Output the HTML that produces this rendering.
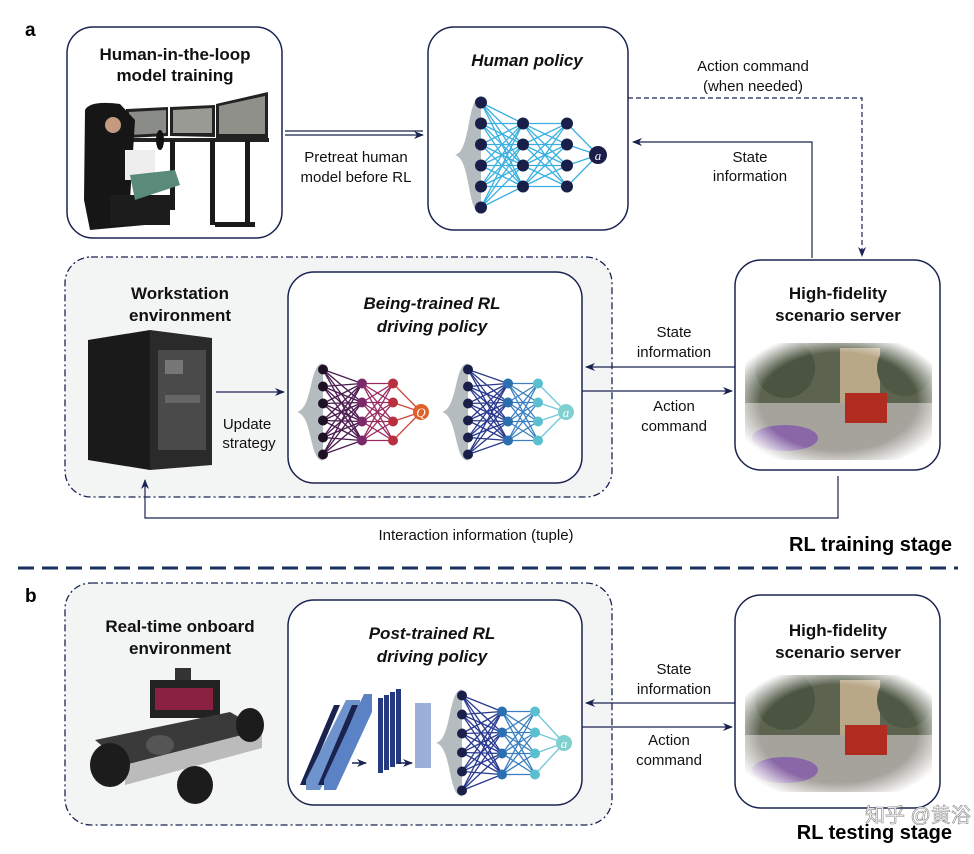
<!DOCTYPE html><html><head><meta charset="utf-8"><style>
body{margin:0;background:#fff}
svg{display:block;font-family:"Liberation Sans",Arial,sans-serif}
.t{font-size:15px;fill:#111;text-anchor:middle}
.b{font-size:17px;font-weight:bold;fill:#111;text-anchor:middle}
.bi{font-size:17px;font-weight:bold;font-style:italic;fill:#111;text-anchor:middle}
</style></head><body>
<svg id="s" width="974" height="854" viewBox="0 0 974 854" xmlns="http://www.w3.org/2000/svg">
<defs>
<marker id="ar" markerWidth="10" markerHeight="8" refX="9" refY="4" orient="auto" markerUnits="userSpaceOnUse"><path d="M0,0 L10,4 L0,8 L3,4z" fill="#1a2350"/></marker>
<radialGradient id="vig" cx=".5" cy=".5" r=".6"><stop offset=".7" stop-color="#fff" stop-opacity="0"/><stop offset="1" stop-color="#fff" stop-opacity="1"/></radialGradient>
<clipPath id="sclip"><rect x="0" y="0" width="187" height="117"/></clipPath>
<g id="scene"><g clip-path="url(#sclip)">
<rect x="0" y="0" width="187" height="117" fill="#b8b4ac"/>
<rect x="0" y="0" width="187" height="60" fill="#5c6450"/>
<rect x="95" y="5" width="40" height="55" fill="#b8a888"/>
<circle cx="40" cy="25" r="30" fill="#4a5440"/><circle cx="160" cy="25" r="28" fill="#4e5844"/>
<rect x="0" y="60" width="187" height="57" fill="#a6a29c"/>
<rect x="100" y="50" width="42" height="30" fill="#b02c20"/>
<ellipse cx="40" cy="95" rx="33" ry="13" fill="#8a68a8"/>
<rect x="0" y="0" width="187" height="117" fill="url(#vig)"/>
</g></g>
</defs>
<text x="25" y="36" style="font-size:19px;font-weight:bold">a</text>
<text x="25" y="602" style="font-size:19px;font-weight:bold">b</text>
<rect x="65" y="257" width="547" height="240" rx="26" fill="#f3f5f5" stroke="#1a2350" stroke-width="1.3" stroke-dasharray="7 3 2 3"/>
<rect x="65" y="583" width="547" height="242" rx="26" fill="#f3f5f5" stroke="#1a2350" stroke-width="1.3" stroke-dasharray="7 3 2 3"/>
<rect x="67" y="27" width="215" height="211" rx="26" fill="#fff" stroke="#1a2350" stroke-width="1.5"/>
<rect x="428" y="27" width="200" height="203" rx="26" fill="#fff" stroke="#1a2350" stroke-width="1.5"/>
<rect x="288" y="272" width="294" height="211" rx="26" fill="#fff" stroke="#1a2350" stroke-width="1.5"/>
<rect x="735" y="260" width="205" height="210" rx="26" fill="#fff" stroke="#1a2350" stroke-width="1.5"/>
<rect x="288" y="600" width="294" height="205" rx="26" fill="#fff" stroke="#1a2350" stroke-width="1.5"/>
<rect x="735" y="595" width="205" height="213" rx="26" fill="#fff" stroke="#1a2350" stroke-width="1.5"/>
<text class="b" x="175" y="60">Human-in-the-loop</text><text class="b" x="175" y="81">model training</text>
<text class="bi" x="527" y="66">Human policy</text>
<text class="b" x="180" y="299">Workstation</text><text class="b" x="180" y="321">environment</text>
<text class="bi" x="432" y="309">Being-trained RL</text><text class="bi" x="432" y="332">driving policy</text>
<text class="b" x="838" y="299">High-fidelity</text><text class="b" x="838" y="321">scenario server</text>
<text class="b" x="180" y="632">Real-time onboard</text><text class="b" x="180" y="654">environment</text>
<text class="bi" x="432" y="639">Post-trained RL</text><text class="bi" x="432" y="662">driving policy</text>
<text class="b" x="838" y="636">High-fidelity</text><text class="b" x="838" y="658">scenario server</text>
<g>
<polygon points="126,109 168,107 168,136 126,138" fill="#222"/>
<polygon points="129,112 166,110 166,133 129,135" fill="#8a8c88"/>
<polygon points="170,107 215,105 215,137 170,136" fill="#222"/>
<polygon points="173,110 212,108 212,133 173,133" fill="#9a9a94"/>
<polygon points="216,104 268,92 268,138 216,138" fill="#222"/>
<polygon points="219,106 265,96 265,134 219,134" fill="#8f908a"/>
<rect x="126" y="138" width="143" height="4" fill="#222"/>
<rect x="210" y="140" width="5" height="85" fill="#1a1a1a"/><rect x="245" y="140" width="5" height="85" fill="#1a1a1a"/>
<rect x="215" y="222" width="40" height="5" fill="#1a1a1a"/>
<rect x="170" y="140" width="5" height="70" fill="#1a1a1a"/>
<path d="M85,110 Q90,100 120,104 L135,120 L130,200 L145,225 L90,230 L84,200z" fill="#161616"/>
<rect x="110" y="195" width="60" height="30" fill="#1c1c1c"/>
<rect x="125" y="150" width="30" height="30" fill="#eee"/>
<path d="M130,175 L175,170 L180,185 L135,200z" fill="#5a8a7a"/>
<circle cx="113" cy="125" r="8" fill="#c49a80"/>
<ellipse cx="160" cy="140" rx="4" ry="10" fill="#111"/>
</g>
<polygon points="88,340 150,330 150,470 88,460" fill="#1a1a1a"/>
<polygon points="150,330 212,338 212,465 150,470" fill="#2a2a2a"/>
<rect x="158" y="350" width="48" height="100" fill="#4a4a4a"/>
<rect x="165" y="360" width="18" height="14" fill="#777"/><rect x="165" y="395" width="35" height="8" fill="#666"/>
<g>
<rect x="150" y="680" width="70" height="38" fill="#222"/>
<rect x="155" y="688" width="58" height="22" fill="#8a2040"/>
<rect x="175" y="668" width="16" height="12" fill="#333"/>
<polygon points="95,740 230,712 262,730 125,765" fill="#3a3a3a"/>
<polygon points="125,765 262,730 262,748 125,785" fill="#bbb"/>
<ellipse cx="110" cy="765" rx="20" ry="22" fill="#1c1c1c"/>
<ellipse cx="250" cy="725" rx="14" ry="17" fill="#1c1c1c"/>
<ellipse cx="195" cy="785" rx="18" ry="19" fill="#1c1c1c"/>
<ellipse cx="160" cy="745" rx="14" ry="10" fill="#555"/>
</g>
<use href="#scene" x="745" y="343"/>
<use href="#scene" x="745" y="675"/>
<line x1="285" y1="131" x2="423" y2="131" stroke="#1a2350" stroke-width="1.2"/>
<line x1="285" y1="135" x2="423" y2="135" stroke="#1a2350" stroke-width="1.2" marker-end="url(#ar)"/>
<text class="t" x="356" y="162">Pretreat human</text><text class="t" x="356" y="182">model before RL</text>
<polyline points="628,98 862,98 862,256" fill="none" stroke="#1a2350" stroke-width="1.2" stroke-dasharray="5 3" marker-end="url(#ar)"/>
<text class="t" x="753" y="71">Action command</text><text class="t" x="753" y="91">(when needed)</text>
<polyline points="812,258 812,142 633,142" fill="none" stroke="#1a2350" stroke-width="1.2" marker-end="url(#ar)"/>
<text class="t" x="750" y="162">State</text><text class="t" x="750" y="181">information</text>
<line x1="735" y1="367" x2="586" y2="367" stroke="#1a2350" stroke-width="1.2" marker-end="url(#ar)"/>
<line x1="582" y1="391" x2="732" y2="391" stroke="#1a2350" stroke-width="1.2" marker-end="url(#ar)"/>
<text class="t" x="674" y="337">State</text><text class="t" x="674" y="357">information</text>
<text class="t" x="674" y="411">Action</text><text class="t" x="674" y="431">command</text>
<line x1="216" y1="392" x2="284" y2="392" stroke="#1a2350" stroke-width="1.2" marker-end="url(#ar)"/>
<text class="t" x="247" y="429">Update</text><text class="t" x="249" y="448">strategy</text>
<polyline points="838,476 838,518 145,518 145,480" fill="none" stroke="#1a2350" stroke-width="1.2" marker-end="url(#ar)"/>
<text class="t" x="476" y="540">Interaction information (tuple)</text>
<text x="952" y="551" style="font-size:20px;font-weight:bold;text-anchor:end">RL training stage</text>
<line x1="18" y1="568" x2="958" y2="568" stroke="#1a3060" stroke-width="3" stroke-dasharray="16 8"/>
<line x1="735" y1="703" x2="586" y2="703" stroke="#1a2350" stroke-width="1.2" marker-end="url(#ar)"/>
<line x1="582" y1="727" x2="732" y2="727" stroke="#1a2350" stroke-width="1.2" marker-end="url(#ar)"/>
<text class="t" x="674" y="674">State</text><text class="t" x="674" y="694">information</text>
<text class="t" x="669" y="745">Action</text><text class="t" x="669" y="765">command</text>
<text x="952" y="839" style="font-size:20px;font-weight:bold;text-anchor:end">RL testing stage</text>
<text x="865" y="822" style="font-size:20px;fill:#fff;stroke:#888;stroke-width:.6;font-family:'Liberation Sans','Noto Sans CJK SC',sans-serif">知乎 @黄浴</text>
<g>
<polygon points="300,785 306,785 340,705 334,705" fill="#1a2350"/>
<polygon points="306,780 346,700 360,700 360,715 320,790 306,790" fill="#6f93cc"/>
<polygon points="318,785 324,785 358,705 352,705" fill="#1a2350"/>
<polygon points="324,780 364,694 372,694 372,712 336,790 324,790" fill="#5a82c4"/>
<rect x="378" y="698" width="5" height="75" fill="#243a80"/><rect x="384" y="695" width="5" height="75" fill="#243a80"/><rect x="390" y="692" width="5" height="75" fill="#243a80"/><rect x="396" y="689" width="5" height="75" fill="#243a80"/>
<rect x="415" y="703" width="16" height="65" fill="#9bb0d8"/>
<line x1="352" y1="763" x2="366" y2="763" stroke="#1a2350" stroke-width="1.5" marker-end="url(#ar)"/>
<line x1="398" y1="763" x2="412" y2="763" stroke="#1a2350" stroke-width="1.5" marker-end="url(#ar)"/>
</g>
<g id="nets"></g>
</svg>
<script>
var g=document.getElementById('nets'),NS='http://www.w3.org/2000/svg';
function el(t,a){var e=document.createElementNS(NS,t);for(var k in a)e.setAttribute(k,a[k]);g.appendChild(e);return e;}
function col(x,yc,n,sp){var r=[];for(var i=0;i<n;i++)r.push([x,yc+(i-(n-1)/2)*sp]);return r;}
function net(x1,x2,x3,x4,yc,sp1,sp2,cols,lc,lbl,r){
 var A=col(x1,yc,6,sp1),B=col(x2,yc,4,sp2),C=col(x3,yc,4,sp2),D=[[x4,yc]];
 var top=A[0][1]-6,bot=A[5][1]+6;
 el('path',{d:'M'+(x1)+','+top+' C'+(x1-14)+','+top+' '+(x1-10)+','+(yc-4)+' '+(x1-26)+','+yc+' C'+(x1-10)+','+(yc+4)+' '+(x1-14)+','+bot+' '+x1+','+bot+'z',fill:'#b5bcc0'});
 var L=[A,B,C,D];
 for(var l=0;l<3;l++)L[l].forEach(function(p){L[l+1].forEach(function(q){el('line',{x1:p[0],y1:p[1],x2:q[0],y2:q[1],stroke:lc[l],'stroke-width':1.3});});});
 L.forEach(function(c,i){c.forEach(function(p){el('circle',{cx:p[0],cy:p[1],r:i==3?r+3:r,fill:cols[i]});});});
 var t=el('text',{x:x4,y:yc+5,'text-anchor':'middle','font-size':13,'font-style':'italic',fill:'#fff','font-family':'Liberation Serif,serif'});t.textContent=lbl;
}
net(481,523,567,598,155,21,21,['#1a1f4a','#1a1f4a','#1a1f4a','#1a1f4a'],['#3ab0e0','#3ab0e0','#3ab0e0'],'a',6);
net(323,362,393,421,412,17,19,['#1e1025','#7a2a6a','#b83040','#e0602a'],['#4a1a50','#9a2a60','#d04a40'],'Q',5);
net(468,508,538,566,412,17,19,['#1a1f4a','#2a70b0','#5ac0d0','#80d0d0'],['#2a3a90','#3a80c0','#70c8d8'],'a',5);
net(462,502,535,564,743,19,21,['#1a1f4a','#2a70b0','#5ac0d0','#80d0d0'],['#2a3a90','#3a80c0','#70c8d8'],'a',5);
</script>
</body></html>
